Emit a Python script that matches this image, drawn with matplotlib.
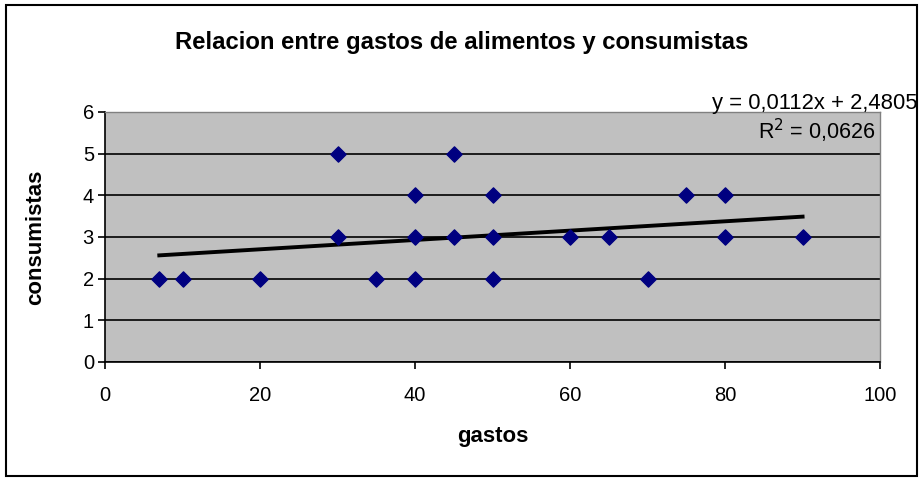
import matplotlib.pyplot as plt
import numpy as np
from matplotlib.patches import Rectangle

plt.rcParams['font.family'] = ['Liberation Sans', 'DejaVu Sans']

# data
gastos = [7, 10, 20, 30, 30, 35, 40, 40, 40, 45, 45, 50, 50, 50, 60, 65, 70, 75, 80, 80, 90]
consumistas = [2, 2, 2, 5, 3, 2, 4, 3, 2, 5, 3, 4, 3, 2, 3, 3, 2, 4, 4, 3, 3]
slope = 0.0112
intercept = 2.4805
r2 = 0.0626

x_ticks = [0, 20, 40, 60, 80, 100]
y_ticks = [0, 1, 2, 3, 4, 5, 6]

fig = plt.figure(figsize=(9.23, 4.79), dpi=100)
fig.patches.append(Rectangle((0.006, 0.006), 0.988, 0.984, transform=fig.transFigure,
                             fill=False, edgecolor='black', linewidth=1.5))

ax = fig.add_axes([0.1138, 0.2443, 0.8397, 0.5219])
ax.set_facecolor('#c0c0c0')
ax.set_xlim(0, 100)
ax.set_ylim(0, 6)
ax.set_xticks(x_ticks)
ax.set_yticks(y_ticks)
ax.grid(axis='y', color='black', linewidth=1.2)
ax.set_axisbelow(True)
for side in ['top', 'right']:
    ax.spines[side].set_color('#808080')
    ax.spines[side].set_linewidth(1)
for side in ['left', 'bottom']:
    ax.spines[side].set_color('black')
    ax.spines[side].set_linewidth(1.2)
ax.tick_params(direction='out', length=5, width=1.2, labelsize=14.5, pad=3)
ax.tick_params(axis='x', pad=12)

ax.scatter(gastos, consumistas, marker='D', s=60, color='#000080', zorder=3)

# linear trendline over the data range
xs = np.array([min(gastos), max(gastos)])
ax.plot(xs, slope * xs + intercept, color='black', linewidth=2.8, zorder=2)

fig.text(0.5, 0.912, 'Relacion entre gastos de alimentos y consumistas', fontsize=17.2,
         fontweight='bold', ha='center', va='center')
fig.text(0.5336, 0.088, 'gastos', fontsize=16, fontweight='bold', ha='center', va='center')
fig.text(0.039, 0.505, 'consumistas', fontsize=16, fontweight='bold', ha='center',
         va='center', rotation=90)

eq = 'y = ' + f'{slope:.4f}'.replace('.', ',') + 'x + ' + f'{intercept:.4f}'.replace('.', ',')
fig.text(0.994, 0.783, eq, fontsize=15.8, ha='right', va='center')
fig.text(0.948, 0.727, 'R$^2$ = ' + f'{r2:.4f}'.replace('.', ','), fontsize=15.5,
         ha='right', va='center')

fig.savefig('out.png', dpi=100)
